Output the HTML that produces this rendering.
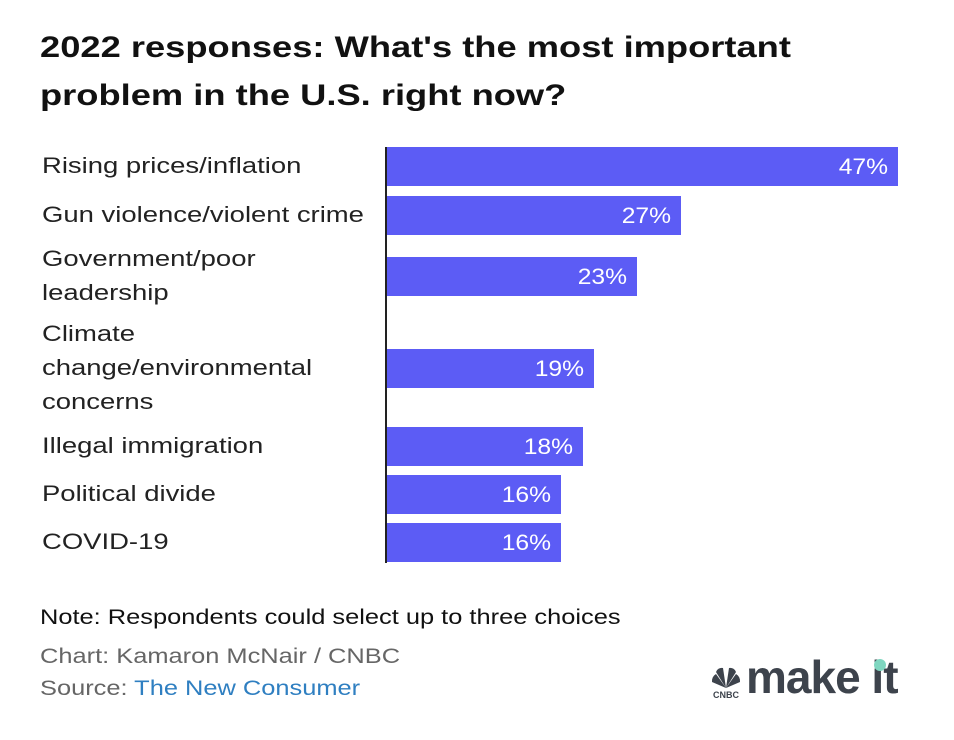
<!DOCTYPE html>
<html><head><meta charset="utf-8"><style>
body{margin:0;width:954px;height:740px;background:#fff;font-family:"Liberation Sans",sans-serif;position:relative;overflow:hidden}
.t{position:absolute;left:40px;top:24px;font-size:30px;font-weight:bold;line-height:48px;color:#111;transform:scaleX(1.21);transform-origin:left top;white-space:nowrap}
.lab{position:absolute;left:42px;font-size:22.5px;line-height:34px;color:#222;transform:translateY(-50%) scaleX(1.22);transform-origin:left center;white-space:nowrap}
.bar{position:absolute;background:#5c5cf5;height:39px}
.val{position:absolute;right:10px;top:0;line-height:39px;color:#fff;font-size:22px;transform:scaleX(1.12);transform-origin:right center}
.ft{position:absolute;left:40px;font-size:21px;color:#666;transform:scaleX(1.21);transform-origin:left top;white-space:nowrap}
</style></head><body>
<div class="t">2022 responses: What's the most important<br>problem in the U.S. right now?</div>
<div id="chart"></div>
<div style="position:absolute;left:385px;top:147px;width:2px;height:416px;background:#222"></div>
<div class="ft" style="top:606px;color:#111">Note: Respondents could select up to three choices</div>
<div class="ft" style="top:645px">Chart: Kamaron McNair / CNBC</div>
<div class="ft" style="top:677px">Source: <span style="color:#2f7fc1">The New Consumer</span></div>
<div style="position:absolute;left:706px;top:656px;width:195px;height:44px">
<svg width="40" height="40" style="position:absolute;left:0;top:8px"><g fill="#3d434c"><path d="M20 24 L6 18 A8 8 0 0 1 10 10Z"/><path d="M20 24 L10 8 A6 6 0 0 1 17 4Z"/><path d="M20 24 L23 4 A6 6 0 0 1 30 8Z"/><path d="M20 24 L30 10 A8 8 0 0 1 34 18Z"/></g><text x="20" y="34" font-size="9" font-weight="bold" text-anchor="middle" fill="#3d434c" font-family="Liberation Sans">CNBC</text></svg>
<span style="position:absolute;left:40px;top:-6px;font-size:46px;font-weight:bold;color:#3d434c;letter-spacing:-1px">make it</span>
<div style="position:absolute;left:168px;top:3px;width:12px;height:12px;border-radius:50%;background:#7fd6c0"></div>
</div>
<script>
const categories=["Rising prices/inflation","Gun violence/violent crime","Government/poor<br>leadership","Climate<br>change/environmental<br>concerns","Illegal immigration","Political divide","COVID-19"];
const values=[47,27,23,19,18,16,16];
const centers=[166,215,276,368,446,494,542];
const x0=387, pxPer=511/47;
const chart=document.getElementById('chart');
categories.forEach((c,i)=>{
  const l=document.createElement('div');
  l.className='lab';
  l.style.top=centers[i]+'px';
  l.innerHTML=c;
  
  
  chart.appendChild(l);
  const b=document.createElement('div');
  b.className='bar';
  b.style.left=x0+'px';
  b.style.top=(centers[i]-19.5)+'px';
  b.style.width=(values[i]*pxPer)+'px';
  
  
  const v=document.createElement('span');
  v.className='val';
  v.textContent=values[i]+'%';
  
  
  b.appendChild(v);
  chart.appendChild(b);
});
</script>
</body></html>
